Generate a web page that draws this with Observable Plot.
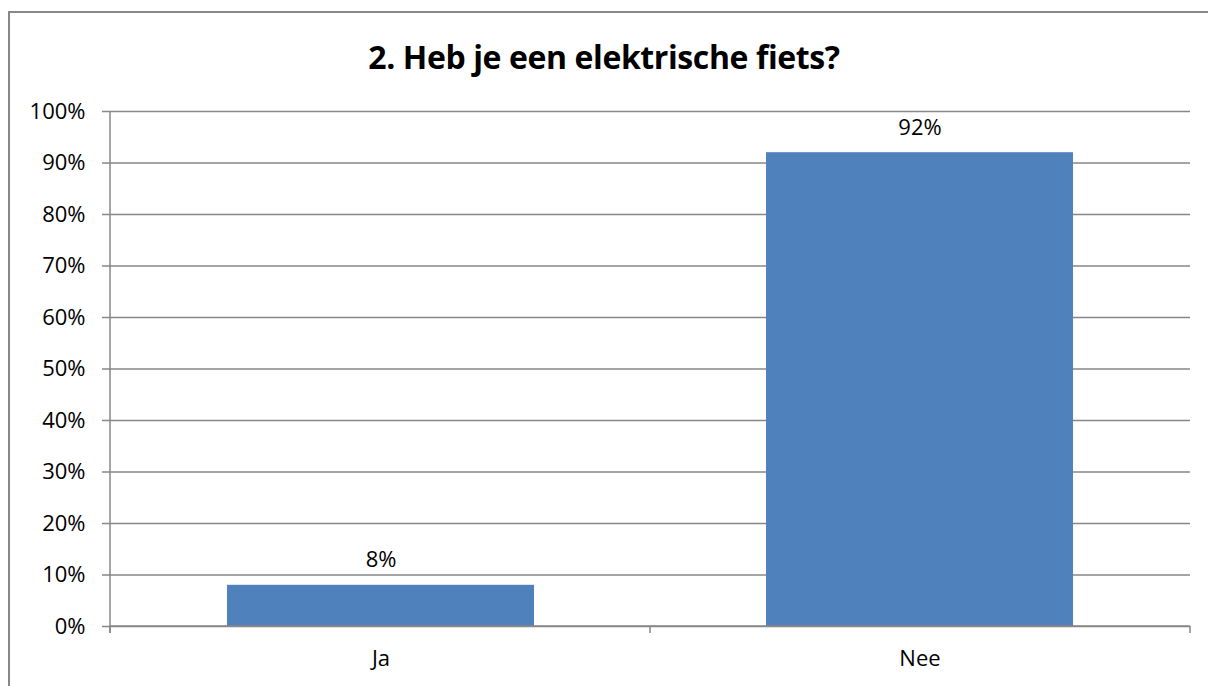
<!DOCTYPE html>
<html>
<head>
<meta charset="utf-8">
<script src="https://cdn.jsdelivr.net/npm/d3@7"></script>
<script src="https://cdn.jsdelivr.net/npm/@observablehq/plot@0.6"></script>
<style>
  html, body { margin: 0; padding: 0; background: #fff; }
  #wrap { position: relative; width: 1208px; height: 686px; overflow: hidden; font-family: "Open Sans", "Liberation Sans", sans-serif; }
  #border { position: absolute; left: 8px; top: 11px; width: 1210px; height: 700px; border: 2px solid #878787; box-sizing: border-box; }
  #title { position: absolute; left: 0; top: 37px; width: 1208px; text-align: center; font-weight: bold; font-size: 32px; line-height: 40px; color: #000; letter-spacing: -0.4px; }
  #chart { position: absolute; left: 0; top: 0; }
</style>
</head>
<body>
<div id="wrap">
  <div id="border"></div>
  <div id="title">2. Heb je een elektrische fiets?</div>
  <div id="chart"></div>
</div>
<script>
const categories = ["Ja", "Nee"];
const values = [0.08, 0.92];
const yTicks = [0, 0.1, 0.2, 0.3, 0.4, 0.5, 0.6, 0.7, 0.8, 0.9, 1.0];

const data = categories.map((c, i) => ({category: c, value: values[i]}));

const FS = 22;
const plot = Plot.plot({
  width: 1208,
  height: 686,
  marginTop: 111,
  marginBottom: 60,
  marginLeft: 110,
  marginRight: 18,
  style: {fontFamily: "'Open Sans', 'Liberation Sans', sans-serif", fontSize: FS + "px", color: "#000", background: "transparent", overflow: "visible"},
  x: {domain: categories, paddingInner: 0.431, paddingOuter: 0.2157, align: 0.5, label: null},
  y: {domain: [0, 1], label: null},
  marks: [
    Plot.gridY(yTicks, {stroke: "#878787", strokeOpacity: 1, strokeWidth: 1.5, insetLeft: -8}),
    Plot.barY(data, {x: "category", y: "value", fill: "#4F81BD"}),
    Plot.axisY(yTicks, {tickFormat: d => Math.round(d * 100) + "%", tickSize: 0, tickPadding: 25, fontSize: FS, fill: "#000"}),
    Plot.axisX({tickSize: 0, tickPadding: 24, fontSize: FS, fill: "#000"}),
    Plot.text(data, {x: "category", y: "value", text: d => Math.round(d.value * 100) + "%", dy: -25, fontSize: FS, fill: "#000"})
  ]
});
document.getElementById("chart").appendChild(plot);

// Axis lines & category boundary ticks, placed with the plot's scales
const sx = plot.scale("x");
const sy = plot.scale("y");
const svg = d3.select(plot);
const y0 = sy.apply(0), y1 = sy.apply(1);
const [left, right] = sx.range;
const step = (right - left) / categories.length;
const boundaries = d3.range(categories.length + 1).map(i => left + i * step);
const g = svg.append("g").attr("stroke", "#878787").attr("stroke-width", 1.5);
g.append("line").attr("x1", left).attr("x2", left).attr("y1", y1).attr("y2", y0 + 7);
g.append("line").attr("x1", left).attr("x2", right).attr("y1", y0).attr("y2", y0);
boundaries.forEach(b => g.append("line").attr("x1", b).attr("x2", b).attr("y1", y0).attr("y2", y0 + 7));
</script>
</body>
</html>
